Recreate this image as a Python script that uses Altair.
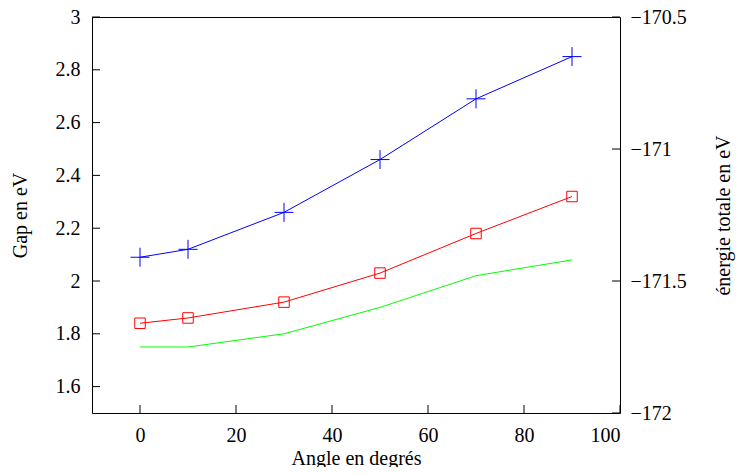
import altair as alt
import pandas as pd

# ---- data ----
angles = [0, 10, 30, 50, 70, 90]
gap_blue = [2.09, 2.12, 2.26, 2.46, 2.69, 2.85]
gap_red = [1.84, 1.86, 1.92, 2.03, 2.18, 2.32]
energy_green = [-171.75, -171.75, -171.70, -171.60, -171.48, -171.42]

x_ticks = [0, 20, 40, 60, 80, 100]
left_ticks = [1.6, 1.8, 2.0, 2.2, 2.4, 2.6, 2.8, 3.0]
right_ticks = [-172, -171.5, -171, -170.5]

W, H = 528, 396
FONT = "Liberation Serif, Times New Roman, serif"
FS = 20

df_blue = pd.DataFrame({"angle": angles, "v": gap_blue})
df_red = pd.DataFrame({"angle": angles, "v": gap_red})
df_green = pd.DataFrame({"angle": angles, "e": energy_green})
df_xt = pd.DataFrame({"angle": x_ticks})
df_lt = pd.DataFrame({"v": left_ticks})
df_rt = pd.DataFrame({"e": right_ticks})

xscale = alt.Scale(domain=[-10, 100], nice=False, zero=False)
lscale = alt.Scale(domain=[1.5, 3], nice=False, zero=False)
rscale = alt.Scale(domain=[-172, -170.5], nice=False, zero=False)

common = dict(labelFont=FONT, titleFont=FONT, labelFontSize=FS, titleFontSize=FS,
              titleFontWeight="normal", labelColor="black", titleColor="black",
              grid=False, domain=False, ticks=False)

x_axis = alt.Axis(title="Angle en degrés", values=x_ticks, format="d",
                  labelPadding=12, titlePadding=3, **common)
l_axis = alt.Axis(title="Gap en eV", values=left_ticks, format=".1~f",
                  labelPadding=12, titlePadding=25, **common)
r_axis = alt.Axis(title="énergie totale en eV", values=right_ticks, format=".1~f",
                  orient="right", labelPadding=10, titlePadding=47, titleAngle=-90,
                  **common)

xe = alt.X("angle:Q", scale=xscale, axis=x_axis)
yl = alt.Y("v:Q", scale=lscale, axis=l_axis)
yr = alt.Y("e:Q", scale=rscale, axis=r_axis)

plus = "M-1,0L1,0M0,-1L0,1"

blue_line = alt.Chart(df_blue).mark_line(color="#0000ff", strokeWidth=1).encode(x=xe, y=yl)
blue_pts = alt.Chart(df_blue).mark_point(shape=plus, size=361, filled=False,
                                         color="#0000ff", strokeWidth=1, opacity=1).encode(x=xe, y=yl)
red_line = alt.Chart(df_red).mark_line(color="#ff0000", strokeWidth=1).encode(x=xe, y=yl)
red_pts = alt.Chart(df_red).mark_point(shape="square", size=110, filled=False,
                                       color="#ff0000", strokeWidth=1, opacity=1).encode(x=xe, y=yl)
left_rules = alt.Chart(df_lt).mark_rule(color="black", strokeWidth=1).encode(
    y=yl, x=alt.value(0), x2=alt.value(8))
bottom_rules = alt.Chart(df_xt).mark_rule(color="black", strokeWidth=1).encode(
    x=xe, y=alt.value(H), y2=alt.value(H - 8))

green_line = alt.Chart(df_green).mark_line(color="#00ff00", strokeWidth=1).encode(x=xe, y=yr)
right_rules = alt.Chart(df_rt).mark_rule(color="black", strokeWidth=1).encode(
    y=yr, x=alt.value(W - 8), x2=alt.value(W))

left = alt.layer(blue_line, blue_pts, red_line, red_pts, left_rules, bottom_rules)
right = alt.layer(green_line, right_rules)

chart = (
    alt.layer(left, right)
    .resolve_scale(y="independent")
    .resolve_axis(y="independent")
    .properties(width=W, height=H,
                autosize=alt.AutoSizeParams(type="none"),
                padding={"left": 84, "top": 9, "right": 116, "bottom": 54})
    .configure_view(stroke="black", strokeWidth=1)
)

chart.save("out.html", embed_options={"renderer": "svg", "actions": False})
